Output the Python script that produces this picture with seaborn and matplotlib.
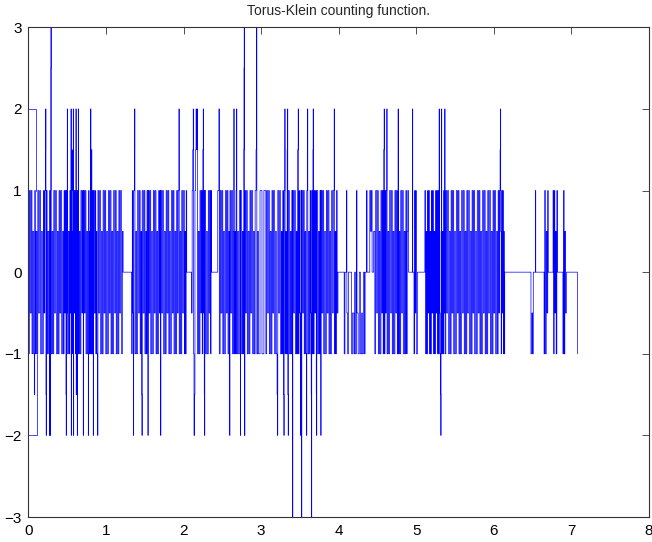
import matplotlib
matplotlib.use("Agg")
import matplotlib.pyplot as plt
import seaborn as sns
import pandas as pd

# Step function: each (x, level) pair is a jump location and the value held after it.
# Short opening branches at the left edge.
upper_start = [(0.000, 2), (0.093, 1)]
lower_start = [(0.000, -2), (0.105, -1)]

steps_a = [  # 0.00 - 1.22
    (0.000, -1), (0.011, 1), (0.022, -0.5), (0.034, 1), (0.045, -1), (0.056, 0.5),
    (0.068, -1), (0.075, -1.5), (0.080, 1), (0.089, -1), (0.098, 0.5), (0.109, -1),
    (0.120, 1), (0.132, -0.5), (0.145, 1), (0.156, -1), (0.168, 0.5), (0.180, -1),
    (0.192, 1), (0.201, -0.5), (0.210, 1), (0.219, 1.5), (0.222, 2), (0.225, -1.5),
    (0.228, -2), (0.231, 1), (0.240, -1), (0.250, 0.5), (0.262, -1), (0.270, -2),
    (0.273, 1), (0.280, -2), (0.283, 1), (0.288, 2.5), (0.290, 3), (0.293, -1),
    (0.304, 0.5), (0.315, -1), (0.326, 1), (0.338, -0.5), (0.349, 1), (0.360, -1),
    (0.372, 0.5), (0.383, -1), (0.394, 1), (0.405, -0.5), (0.416, 1), (0.428, -1),
    (0.439, 0.5), (0.450, -1), (0.459, 1), (0.468, -0.5), (0.475, 1), (0.483, -1.5),
    (0.486, -2), (0.489, 1), (0.494, -0.5), (0.500, 2), (0.503, -1), (0.514, 0.5),
    (0.525, -1), (0.533, 1), (0.540, -0.5), (0.548, 2), (0.551, -2), (0.554, 1),
    (0.561, 1.5), (0.564, -1), (0.570, 0.5), (0.577, 2), (0.580, -2), (0.583, 1),
    (0.590, -0.5), (0.598, 1), (0.605, -1), (0.612, 2), (0.615, -1.5), (0.618, 1),
    (0.623, -0.5), (0.629, -2), (0.632, 1), (0.637, -1), (0.642, 2), (0.645, -1),
    (0.655, 0.5), (0.665, -1), (0.676, 1), (0.688, -0.5), (0.697, 1), (0.706, -2),
    (0.709, 1), (0.720, -0.5), (0.730, 1), (0.741, -1), (0.752, 0.5), (0.762, -1),
    (0.771, -2), (0.774, 1), (0.782, -1), (0.790, 0.5), (0.796, -1), (0.802, 2),
    (0.805, -1), (0.814, 1.5), (0.817, -1), (0.826, 1), (0.835, -2), (0.838, 1),
    (0.849, -0.5), (0.860, 1), (0.867, -1), (0.875, 0.5), (0.882, -1), (0.889, -1.5),
    (0.892, -2), (0.895, 1), (0.906, -0.5), (0.918, 1), (0.929, -1), (0.940, 0.5),
    (0.951, -1), (0.962, 1), (0.974, -0.5), (0.985, 1), (0.996, -1), (1.008, 0.5),
    (1.019, -1), (1.030, 1), (1.041, -0.5), (1.052, 1), (1.064, -1), (1.075, 0.5),
    (1.086, -1), (1.098, 1), (1.109, -0.5), (1.120, 1), (1.131, -1), (1.142, 0.5),
    (1.154, -1), (1.165, 1), (1.176, -0.5), (1.188, 1), (1.199, -1), (1.210, 0.5),
    (1.220, 0),
]

steps_b = [  # 1.33 - 2.04
    (1.330, -1), (1.338, 1), (1.345, -0.5), (1.353, -2), (1.356, 1), (1.366, 1.5),
    (1.369, 2), (1.372, -1), (1.384, 0.5), (1.395, -1), (1.406, 1), (1.418, -0.5),
    (1.429, 1), (1.440, -1), (1.450, 0.5), (1.460, -1.5), (1.463, -2), (1.466, 1),
    (1.478, -0.5), (1.490, 1), (1.501, -1), (1.512, 0.5), (1.520, -1), (1.528, 1),
    (1.540, -2), (1.543, 1), (1.554, -0.5), (1.565, 1), (1.576, -1), (1.588, 0.5),
    (1.599, -1), (1.610, 1), (1.621, -0.5), (1.632, 1), (1.644, -1), (1.655, 0.5),
    (1.666, -1), (1.678, 1), (1.687, -0.5), (1.696, 1), (1.704, -2), (1.707, 1),
    (1.718, -0.5), (1.730, 1), (1.741, -1), (1.752, 0.5), (1.764, -1), (1.775, 1),
    (1.786, -0.5), (1.798, 1), (1.809, -1), (1.820, 0.5), (1.831, -1), (1.842, 1),
    (1.854, -0.5), (1.865, 1), (1.876, -1), (1.888, 0.5), (1.899, -1), (1.910, 1),
    (1.920, -0.5), (1.930, 1), (1.940, 2), (1.943, -1), (1.954, 0.5), (1.965, -1),
    (1.976, 1), (1.988, -0.5), (1.999, 1), (2.010, -1), (2.018, 0.5), (2.025, -1),
    (2.033, 1), (2.040, 0),
]

steps_c = [  # 2.10 - 2.36
    (2.100, -0.5), (2.110, 1), (2.118, 1.5), (2.124, 2), (2.127, -1), (2.134, -2),
    (2.140, -1.5), (2.146, 1), (2.155, 1.5), (2.160, 2), (2.165, 1.5), (2.175, 2),
    (2.178, -1), (2.189, 0.5), (2.200, -1), (2.211, 1), (2.222, -0.5), (2.231, 1),
    (2.240, -1), (2.248, 1.5), (2.253, 2), (2.256, -0.5), (2.261, 1), (2.266, -1.5),
    (2.270, -2), (2.273, 1), (2.284, -1), (2.295, 0.5), (2.306, -1), (2.318, 1),
    (2.329, -0.5), (2.340, 1), (2.347, -1), (2.354, 1), (2.360, 0),
]

steps_d = [  # 2.44 - 3.99
    (2.440, 1), (2.455, 2), (2.460, -1), (2.471, 1), (2.482, -0.5), (2.494, 1),
    (2.505, -1), (2.516, 0.5), (2.528, -1), (2.539, 1), (2.550, -0.5), (2.561, 1),
    (2.572, -1), (2.583, 0.5), (2.594, -2), (2.597, 1), (2.608, -0.5), (2.620, 1),
    (2.630, -1), (2.640, 0.5), (2.648, 2), (2.651, -1), (2.660, 0.5), (2.668, -1),
    (2.676, 1), (2.683, 2), (2.686, -1), (2.697, 0.5), (2.708, -1), (2.720, 1),
    (2.732, -2), (2.735, 1), (2.746, -1), (2.758, 0.5), (2.767, -1), (2.775, 1.5),
    (2.778, 2.5), (2.781, 3), (2.784, -2), (2.790, 1), (2.800, -0.5), (2.810, 1),
    (2.821, -1), (2.832, 0.5), (2.844, -1), (2.855, 1), (2.866, -0.5), (2.878, 1),
    (2.889, -1), (2.900, 0.5), (2.911, -1), (2.922, 1), (2.934, 1.5), (2.938, 2.5),
    (2.941, 3), (2.944, -1), (2.955, 0.5), (2.965, -1), (2.985, 1), (3.010, -1),
    (3.035, 1), (3.060, -1), (3.071, 1), (3.082, -0.5), (3.094, 1), (3.105, -1),
    (3.116, 0.5), (3.128, -1), (3.139, 1), (3.150, -0.5), (3.161, 1), (3.172, -1),
    (3.184, 0.5), (3.195, -1), (3.205, -1.5), (3.211, -2), (3.214, 1), (3.226, -0.5),
    (3.238, 1), (3.249, -1), (3.260, 0.5), (3.269, -1), (3.278, 1), (3.287, -1.5),
    (3.293, -2), (3.296, 1), (3.305, 2), (3.308, -1), (3.317, 0.5), (3.326, -1),
    (3.335, 1.5), (3.340, 2), (3.343, -1.5), (3.348, -2), (3.351, 1), (3.363, -1),
    (3.375, 0.5), (3.385, -1), (3.395, 1), (3.405, -3), (3.408, 1), (3.419, -0.5),
    (3.430, 1), (3.441, -1), (3.452, 0.5), (3.461, -1), (3.470, 1.5), (3.477, 2),
    (3.480, -1), (3.488, 1), (3.495, -0.5), (3.505, -1.5), (3.508, -2), (3.511, 1),
    (3.521, -3), (3.524, 1), (3.535, -0.5), (3.545, 1), (3.555, -1), (3.565, 0.5),
    (3.575, -1), (3.585, -2), (3.588, 1), (3.595, 1.5), (3.598, 2), (3.601, -1),
    (3.612, 0.5), (3.622, -1), (3.631, 1), (3.640, -0.5), (3.645, -1.5), (3.649, -3),
    (3.652, 1), (3.660, -1), (3.667, 1.5), (3.670, 2), (3.673, -1), (3.683, 1),
    (3.692, -0.5), (3.701, 1), (3.710, -1.5), (3.714, -2), (3.717, 1), (3.729, -1),
    (3.740, 0.5), (3.749, -1), (3.758, 1), (3.769, -2), (3.772, 1), (3.784, -0.5),
    (3.795, 1), (3.806, -1), (3.818, 0.5), (3.829, -1), (3.840, 1), (3.851, -0.5),
    (3.862, 1), (3.874, -1), (3.885, 0.5), (3.896, -1), (3.908, 1), (3.919, -0.5),
    (3.930, 1), (3.941, 2), (3.944, -1), (3.953, 0.5), (3.962, -1), (3.971, 1),
    (3.980, -0.5), (3.990, 0),
]

steps_e = [  # 4.07 - 5.02
    (4.070, -1), (4.080, 0), (4.100, 1), (4.105, -0.5), (4.115, -1), (4.125, 0),
    (4.165, -1), (4.178, -0.5), (4.195, -1), (4.205, 0), (4.215, -1), (4.228, 1),
    (4.235, -0.5), (4.250, -1), (4.265, 0), (4.280, -1), (4.295, -0.5), (4.305, -1),
    (4.318, 0), (4.330, -1), (4.340, 0), (4.360, 1), (4.365, 0), (4.400, 1),
    (4.410, 0.5), (4.420, 1), (4.430, 0), (4.450, 0.5), (4.465, -1), (4.476, 1),
    (4.488, -0.5), (4.499, 1), (4.510, -1), (4.521, 0.5), (4.532, -1), (4.544, 1),
    (4.555, -0.5), (4.564, 1), (4.573, -1), (4.580, 1.5), (4.585, 2), (4.588, -1),
    (4.596, 1), (4.605, -0.5), (4.612, 1), (4.620, 2), (4.623, -1), (4.634, 0.5),
    (4.645, -1), (4.656, 1), (4.668, -0.5), (4.679, 1), (4.690, -1), (4.701, 0.5),
    (4.712, -1), (4.724, 1), (4.735, -0.5), (4.745, 1), (4.755, -1), (4.765, 2),
    (4.768, -1), (4.778, 0.5), (4.788, -1), (4.799, 1), (4.810, -0.5), (4.821, 1),
    (4.832, -1), (4.844, 0.5), (4.855, -1), (4.865, 1), (4.875, -1), (4.883, 0.5),
    (4.890, 1), (4.900, 0), (4.951, 2), (4.954, 0), (4.970, -1), (4.978, 1),
    (4.985, -0.5), (4.993, 1), (5.000, -1), (5.015, 0),
]

steps_f = [  # 5.11 - 6.14
    (5.110, 1), (5.119, -1), (5.128, 0.5), (5.136, -1), (5.145, 1), (5.152, -0.5),
    (5.160, 1), (5.169, -1), (5.178, 0.5), (5.186, -1), (5.195, 1), (5.203, -0.5),
    (5.212, 1), (5.221, -1), (5.230, 0.5), (5.239, -1), (5.248, 1), (5.256, -0.5),
    (5.265, 1), (5.273, -1), (5.281, 1), (5.287, -1), (5.294, 2), (5.297, -0.5),
    (5.306, -1), (5.313, -1.5), (5.316, -2), (5.319, 0.5), (5.325, 2), (5.328, -1),
    (5.336, 0.5), (5.345, -1), (5.352, 1), (5.360, -0.5), (5.367, 2), (5.370, -1),
    (5.381, 1), (5.392, -0.5), (5.404, 1), (5.415, -1), (5.426, 0.5), (5.438, -1),
    (5.449, 1), (5.460, -0.5), (5.471, 1), (5.482, -1), (5.494, 0.5), (5.505, -1),
    (5.516, 1), (5.528, -0.5), (5.539, 1), (5.550, -1), (5.561, 0.5), (5.572, -1),
    (5.584, 1), (5.595, -0.5), (5.606, 1), (5.618, -1), (5.629, 0.5), (5.640, -1),
    (5.651, 1), (5.662, -0.5), (5.674, 1), (5.685, -1), (5.696, 0.5), (5.708, -1),
    (5.719, 1), (5.730, -0.5), (5.741, 1), (5.752, -1), (5.764, 0.5), (5.775, -1),
    (5.786, 1), (5.798, -0.5), (5.809, 1), (5.820, -1), (5.831, 0.5), (5.842, -1),
    (5.854, 1), (5.865, -0.5), (5.876, 1), (5.888, -1), (5.899, 0.5), (5.910, -1),
    (5.921, 1), (5.932, -0.5), (5.944, 1), (5.955, -1), (5.966, 0.5), (5.978, -1),
    (5.989, 1), (6.000, -0.5), (6.011, 1), (6.022, -1), (6.034, 0.5), (6.045, -1),
    (6.055, 1), (6.065, -0.5), (6.073, 1), (6.080, 1.5), (6.085, 2), (6.088, 0.5),
    (6.094, -1), (6.100, 1), (6.108, -0.5), (6.115, 1), (6.122, -1), (6.128, 0.5),
    (6.134, -1), (6.140, 0),
]

steps_g = [  # 6.48 - 7.08
    (6.478, -1), (6.490, -0.5), (6.500, -1), (6.508, 0), (6.536, 1), (6.540, 0),
    (6.647, -1), (6.655, 1), (6.665, -1), (6.675, 0.5), (6.685, -0.5), (6.695, 1),
    (6.700, 0), (6.763, 1), (6.770, -1), (6.778, 1), (6.786, -0.5), (6.795, 0.5),
    (6.803, -1), (6.812, 1), (6.820, 0), (6.890, -1), (6.898, 1), (6.906, -1),
    (6.915, 0.5), (6.925, -0.5), (6.936, 0), (7.077, -1),
]

x_ticks = [0, 1, 2, 3, 4, 5, 6, 7, 8]
y_ticks = [-3, -2, -1, 0, 1, 2, 3]
title_text = "Torus-Klein counting function."

main_path = steps_a + steps_b + steps_c + steps_d + steps_e + steps_f + steps_g
frames = []
for name, pts in (("upper", upper_start), ("lower", lower_start), ("main", main_path)):
    frames.append(pd.DataFrame({"x": [p[0] for p in pts],
                                "y": [p[1] for p in pts],
                                "branch": name}))
df = pd.concat(frames, ignore_index=True)

sns.set_style("white")
plt.rcParams["font.family"] = ["Liberation Sans", "DejaVu Sans"]

fig = plt.figure(figsize=(6.52, 5.42), dpi=100)
ax = fig.add_axes([0.0437, 0.0461, 0.9517, 0.9035])

sns.lineplot(data=df, x="x", y="y", units="branch", estimator=None, sort=False,
             drawstyle="steps-post", color="#0000ff", linewidth=0.5,
             legend=False, ax=ax)

ax.set_xlim(0, 8)
ax.set_ylim(-3, 3)
ax.set_xticks(x_ticks)
ax.set_yticks(y_ticks)
ax.set_xlabel("")
ax.set_ylabel("")
ax.set_title(title_text, fontsize=10, pad=9)
ax.tick_params(direction="in", length=5, width=0.6, colors="#333333",
               labelcolor="black", labelsize=11, top=True, right=True,
               labeltop=False, labelright=False, pad=5)
for s in ax.spines.values():
    s.set_visible(True)
    s.set_color("#333333")
    s.set_linewidth(0.8)

fig.savefig("out.png", dpi=100, facecolor="white")
